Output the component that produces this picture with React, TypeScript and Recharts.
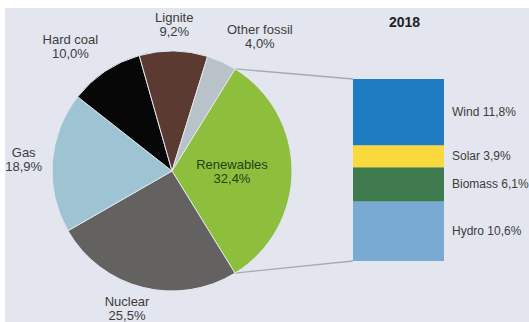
import React from 'react';
import { PieChart, Pie, Cell, BarChart, Bar, XAxis, YAxis } from 'recharts';

// ---- data ----
const sources = ['Renewables', 'Nuclear', 'Gas', 'Hard coal', 'Lignite', 'Other fossil'];
const shares = [32.4, 25.5, 18.9, 10.0, 9.2, 4.0];
const shareLabels = ['32,4%', '25,5%', '18,9%', '10,0%', '9,2%', '4,0%'];

const renewableTypes = ['Hydro', 'Biomass', 'Solar', 'Wind'];
const renewableShares = [10.6, 6.1, 3.9, 11.8];
const renewableLabels = ['10,6%', '6,1%', '3,9%', '11,8%'];

const year = '2018';
const splitSource = 'Renewables';

// ---- styles ----
const sourceColors: Record<string, string> = {
  Renewables: '#8dbf3d',
  Nuclear: '#636260',
  Gas: '#9ec4d4',
  'Hard coal': '#070707',
  Lignite: '#5a3a31',
  'Other fossil': '#b9c1c9',
};
const renewableColors: Record<string, string> = {
  Hydro: '#79aad3',
  Biomass: '#3f7b4f',
  Solar: '#fad93c',
  Wind: '#1f7cc2',
};

const BG = '#e3e6ee';
const FONT = '"Liberation Sans", Arial, sans-serif';
const FONT_SIZE = 13;
const BAR_FONT_SIZE = 12;
const LINE_H = 14;
const TEXT = '#3c3c3c';

const W = 524;
const H = 314;
const PIE_CX = 167;
const PIE_CY = 163;
const PIE_R = 120;
const BAR_LEFT = 348;
const BAR_TOP = 71;
const BAR_W = 91;
const BAR_H = 182;
const LABEL_ROOM = 95;

const pieData = sources.map((name, i) => ({ name, value: shares[i] }));
const splitIndex = sources.indexOf(splitSource);
const startAngle = shares[splitIndex] * 1.8;
const endAngle = startAngle - 360;

const barRow: Record<string, any> = { name: year };
renewableTypes.forEach((t, i) => {
  barRow[t] = renewableShares[i];
});
const barData = [barRow];
const barTotal = renewableShares.reduce((a, b) => a + b, 0);

let ctx: CanvasRenderingContext2D | null = null;
const measure = (t: string) => {
  if (!ctx) ctx = document.createElement('canvas').getContext('2d');
  if (!ctx) return t.length * 6.5;
  ctx.font = `${FONT_SIZE}px ${FONT}`;
  return ctx.measureText(t).width;
};

const clamp = (v: number) => Math.max(-1, Math.min(1, v));
const RAD = Math.PI / 180;

const renderPieLabel = (p: any) => {
  const { cx, cy, midAngle, outerRadius, index } = p;
  const name = sources[index];
  const lines = [name, shareLabels[index]];
  const cos = Math.cos(midAngle * RAD);
  const sin = Math.sin(midAngle * RAD);
  let bx: number;
  let by: number;
  let color = TEXT;
  if (name === splitSource) {
    bx = cx + outerRadius * 0.5 * cos;
    by = cy - outerRadius * 0.5 * sin;
    color = '#243f16';
  } else {
    const r = outerRadius + 10 + 3 * sin;
    const px = cx + r * cos;
    const py = cy - r * sin;
    const bw = Math.max(...lines.map(measure));
    const bh = lines.length * LINE_H;
    bx = px + clamp(cos * 2.5) * (bw / 2);
    by = py - clamp(sin * 2.5) * (bh / 2);
  }
  return (
    <g key={`lbl-${index}`}>
      {lines.map((ln, i) => (
        <text
          key={i}
          x={bx}
          y={by + (i - (lines.length - 1) / 2) * LINE_H}
          textAnchor="middle"
          dominantBaseline="central"
          fontFamily={FONT}
          fontSize={FONT_SIZE}
          fill={color}
        >
          {ln}
        </text>
      ))}
    </g>
  );
};

const makeBarLabel = (i: number) => (p: any) => {
  const { x, y, width, height } = p;
  return (
    <text
      x={x + width + 8}
      y={y + height / 2}
      textAnchor="start"
      dominantBaseline="central"
      fontFamily={FONT}
      fontSize={BAR_FONT_SIZE}
      fill={TEXT}
    >
      {`${renewableTypes[i]} ${renewableLabels[i]}`}
    </text>
  );
};

export default function App() {
  const a0 = startAngle * RAD;
  const topPt = { x: PIE_CX + PIE_R * Math.cos(a0), y: PIE_CY - PIE_R * Math.sin(a0) };
  const botAngle = (startAngle - shares[splitIndex] * 3.6) * RAD;
  const botPt = { x: PIE_CX + PIE_R * Math.cos(botAngle), y: PIE_CY - PIE_R * Math.sin(botAngle) };

  return (
    <div
      style={{
        position: 'absolute',
        left: 5,
        top: 8,
        width: W,
        height: H,
        background: BG,
        overflow: 'hidden',
      }}
    >
      <svg
        width={W}
        height={H}
        style={{ position: 'absolute', left: 0, top: 0 }}
      >
        <line x1={topPt.x} y1={topPt.y} x2={BAR_LEFT} y2={BAR_TOP} stroke="#a6aab3" strokeWidth={1.3} />
        <line x1={botPt.x} y1={botPt.y} x2={BAR_LEFT} y2={BAR_TOP + BAR_H} stroke="#a6aab3" strokeWidth={1.3} />
        <text
          x={BAR_LEFT + BAR_W / 2 + 6}
          y={14}
          textAnchor="middle"
          dominantBaseline="central"
          fontFamily={FONT}
          fontSize={14}
          fontWeight="bold"
          fill="#222"
        >
          {year}
        </text>
      </svg>
      <div style={{ position: 'absolute', left: 0, top: 0 }}>
        <PieChart width={W} height={H} margin={{ top: 0, right: 0, bottom: 0, left: 0 }}>
          <Pie
            data={pieData}
            dataKey="value"
            nameKey="name"
            cx={PIE_CX}
            cy={PIE_CY}
            outerRadius={PIE_R}
            startAngle={startAngle}
            endAngle={endAngle}
            stroke={BG}
            strokeWidth={1}
            labelLine={false}
            label={renderPieLabel}
            isAnimationActive={false}
          >
            {pieData.map((d) => (
              <Cell key={d.name} fill={sourceColors[d.name]} />
            ))}
          </Pie>
        </PieChart>
      </div>
      <div style={{ position: 'absolute', left: BAR_LEFT, top: BAR_TOP }}>
        <BarChart
          width={BAR_W + LABEL_ROOM}
          height={BAR_H}
          data={barData}
          margin={{ top: 0, right: LABEL_ROOM, bottom: 0, left: 0 }}
          barCategoryGap={0}
        >
          <XAxis dataKey="name" type="category" hide />
          <YAxis type="number" domain={[0, barTotal]} hide />
          {renewableTypes.map((t, i) => (
            <Bar
              key={t}
              dataKey={t}
              stackId="r"
              fill={renewableColors[t]}
              label={makeBarLabel(i)}
              isAnimationActive={false}
            />
          ))}
        </BarChart>
      </div>
    </div>
  );
}
